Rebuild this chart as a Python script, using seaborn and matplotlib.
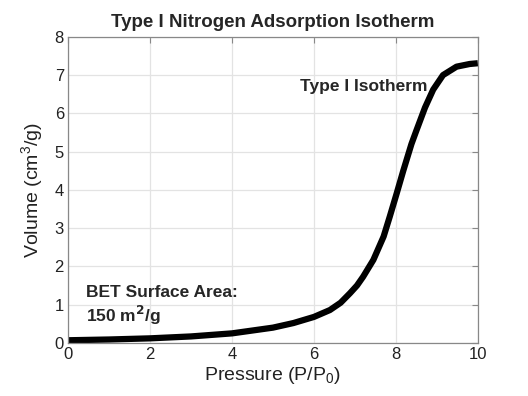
import numpy as np
import pandas as pd
import matplotlib
matplotlib.use("Agg")
import matplotlib.pyplot as plt
import seaborn as sns

# ── data ─────────────────────────────────────────────
pressure = [0, 1, 2, 3, 4, 5, 5.5, 6, 6.39, 6.65, 6.88, 7.05, 7.2, 7.45, 7.7,
            7.85, 8.02, 8.18, 8.26, 8.38, 8.5, 8.71, 8.91, 9.15, 9.48, 9.8, 10]
volume = [0.07, 0.09, 0.12, 0.17, 0.25, 0.40, 0.52, 0.68, 0.86, 1.05, 1.30,
          1.50, 1.73, 2.17, 2.78, 3.30, 3.91, 4.50, 4.78, 5.20, 5.55, 6.15,
          6.62, 7.0, 7.22, 7.29, 7.31]
xticks = [0, 2, 4, 6, 8, 10]
yticks = [0, 1, 2, 3, 4, 5, 6, 7, 8]

df = pd.DataFrame({"pressure": pressure, "volume": volume})

sns.set_style("white")
plt.rcParams["font.family"] = ["Liberation Sans", "DejaVu Sans"]

fig, ax = plt.subplots(figsize=(5.28, 3.96), dpi=100)
fig.subplots_adjust(left=0.129, right=0.905, top=0.907, bottom=0.134)

sns.lineplot(data=df, x="pressure", y="volume", color="black", linewidth=4.5,
             ax=ax, solid_capstyle="butt", solid_joinstyle="round")

ax.set_xlim(0, 10)
ax.set_ylim(0, 8)
ax.set_xticks(xticks)
ax.set_yticks(yticks)
ax.grid(True, color="#e3e3e3", linewidth=0.9)
ax.set_axisbelow(True)
for s in ax.spines.values():
    s.set_color("#888888")
    s.set_linewidth(0.9)
ax.tick_params(direction="in", length=4, color="#888888", labelsize=12,
               top=True, right=True, labelcolor="#222222", pad=3)

ax.set_title("Type I Nitrogen Adsorption Isotherm", fontsize=13.5,
             fontweight="bold", pad=7)
ax.set_xlabel("Pressure (P/P$_{\\mathregular{0}}$)", fontsize=14,
              color="#222222", labelpad=2)
ax.set_ylabel("Volume (cm$^{\\mathregular{3}}$/g)", fontsize=14,
              color="#222222", labelpad=6)

ax.text(5.66, 6.7, "Type I Isotherm", fontsize=12.5, fontweight="bold",
        va="center", ha="left")
ax.text(0.44, 1.31, "BET Surface Area:", fontsize=12.5, fontweight="bold",
        va="center", ha="left")
ax.text(0.44, 0.71, "150 m$^\\mathbf{2}$/g", fontsize=12.5, fontweight="bold",
        va="center", ha="left")

plt.savefig("out.png", dpi=100)
